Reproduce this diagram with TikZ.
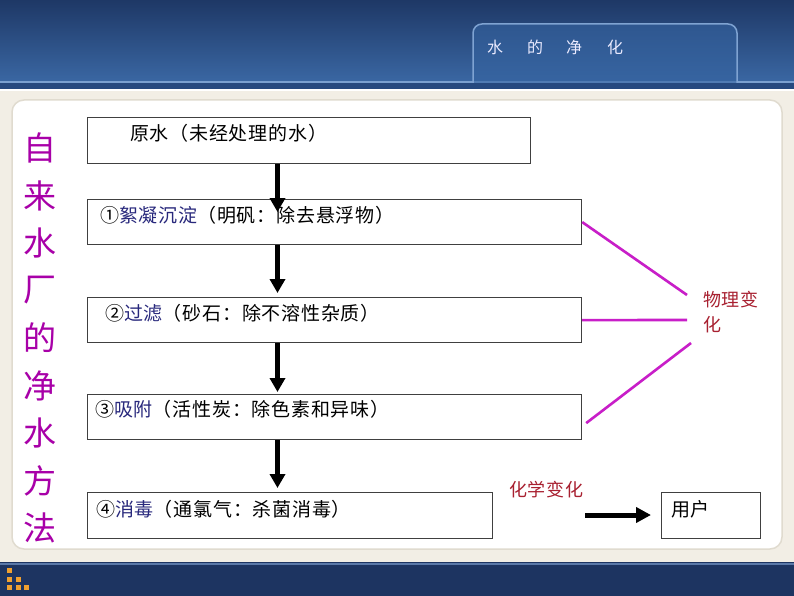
\documentclass[tikz,border=0pt]{standalone}
\usepackage{fontspec}
\setmainfont{Noto Sans CJK SC}
\newfontfamily\spacedcjk{Noto Sans CJK SC}[LetterSpace=4]
\usetikzlibrary{arrows.meta,calc}
\definecolor{bannertop}{HTML}{1E3866}
\definecolor{bannerbot}{HTML}{3A67A3}
\definecolor{tabfill}{HTML}{3563A0}
\definecolor{tabedge}{HTML}{7FA3D2}
\definecolor{bandline}{HTML}{7AA0D0}
\definecolor{banddark}{HTML}{26497F}
\definecolor{cream}{HTML}{F2EEE5}
\definecolor{paneledge}{HTML}{E0DBCF}
\definecolor{footbar}{HTML}{1D3461}
\definecolor{footline}{HTML}{5A78A8}
\definecolor{squares}{HTML}{F0A030}
\definecolor{boxedge}{HTML}{404040}
\definecolor{stepblue}{HTML}{28287C}
\definecolor{sidemag}{HTML}{A800A8}
\definecolor{linkmag}{HTML}{C81EC8}
\definecolor{labelred}{HTML}{A82030}
\begin{document}
\begin{tikzpicture}[x=1pt,y=-1pt,
  stepbox/.style={draw=boxedge,line width=1.2pt,fill=white,inner sep=0pt,anchor=north west},
  steptext/.style={anchor=west,inner sep=0pt,font=\spacedcjk\fontsize{19pt}{22pt}\selectfont},
  flowarrow/.style={line width=4.5pt,-{Triangle[width=15pt,length=14pt]}},
  linkline/.style={draw=linkmag,line width=2.6pt},
  redlabel/.style={text=labelred,inner sep=0pt,font=\spacedcjk\fontsize{18pt}{25pt}\selectfont},
  sidechar/.style={text=sidemag,inner sep=0pt,font=\fontsize{33pt}{36pt}\selectfont},
  headchar/.style={text=white!92!blue,inner sep=0pt,font=\fontsize{16pt}{18pt}\selectfont},
  sq/.style={fill=squares}]
\useasboundingbox (0,0) rectangle (794,596);
% banner
\fill[top color=bannertop,bottom color=bannerbot] (0,0) rectangle (794,82);
\fill[bandline] (0,81.5) rectangle (794,83);
\fill[banddark] (0,83) rectangle (794,89);
\fill[white] (0,89) rectangle (794,91);
% tab
\path[fill=tabfill,fill opacity=0.6,draw=tabedge,line width=1.5pt,rounded corners=9pt]
  (473,83) -- (473,24) -- (737,24) -- (737,83);
\node[headchar] (h1) at (495,47) {水};
\node[headchar] (h2) at (535,47) {的};
\node[headchar] (h3) at (574,47) {净};
\node[headchar] (h4) at (615,47) {化};
% cream area and panel
\fill[cream] (0,91) rectangle (794,562);
\filldraw[fill=white,draw=paneledge,line width=1.5pt,rounded corners=12pt] (12,100) rectangle (782,549);
% footer
\fill[footbar] (0,562) rectangle (794,596);
\fill[footline] (0,563) rectangle (794,565);
\fill[sq] (7,568) rectangle (12,573);
\fill[sq] (7,577) rectangle (12,582);
\fill[sq] (16,577) rectangle (21,582);
\fill[sq] (7,585) rectangle (12,590);
\fill[sq] (16,585) rectangle (21,590);
\fill[sq] (24,585) rectangle (29,590);
% side text
\foreach \c [count=\i from 0] in {自,来,水,厂,的,净,水,方,法}{
  \node[sidechar] (s\i) at (40,{148+47.5*\i}) {\c};
}
% boxes
\node[stepbox,minimum width=443pt,minimum height=46pt] (b0) at (87,117) {};
\node[stepbox,minimum width=494pt,minimum height=45pt] (b1) at (87,199) {};
\node[stepbox,minimum width=494pt,minimum height=45pt] (b2) at (87,297) {};
\node[stepbox,minimum width=494pt,minimum height=45pt] (b3) at (87,394) {};
\node[stepbox,minimum width=405pt,minimum height=46pt] (b4) at (87,492) {};
\node[stepbox,minimum width=99pt,minimum height=46pt] (user) at (661,492) {};
% box texts
\node[steptext] (t0) at (130,133) {原水（未经处理的水）};
\node[steptext] (t1) at (100,215) {①\textcolor{stepblue}{絮凝沉淀}（明矾：除去悬浮物）};
\node[steptext] (t2) at (105,313) {②\textcolor{stepblue}{过滤}（砂石：除不溶性杂质）};
\node[steptext] (t3) at (95,409) {③\textcolor{stepblue}{吸附}（活性炭：除色素和异味）};
\node[steptext] (t4) at (96,509) {④\textcolor{stepblue}{消毒}（通氯气：杀菌消毒）};
\node[steptext] (tu) at (671,509) {用户};
% flow arrows
\coordinate (ax) at (277.5,0);
\draw[flowarrow] (b0.south -| ax) -- ([yshift=-13pt]b1.north -| ax);
\draw[flowarrow] (b1.south -| ax) -- ([yshift=4pt]b2.north -| ax);
\draw[flowarrow] (b2.south -| ax) -- ([yshift=2pt]b3.north -| ax);
\draw[flowarrow] (b3.south -| ax) -- ([yshift=4pt]b4.north -| ax);
% physical change links
\node[redlabel,anchor=north west,align=left] (phys) at (703,291) {物理变\\化};
\coordinate (p1) at (687,295);
\coordinate (p2) at (687,320);
\coordinate (p3) at (691,343);
\draw[linkline] (b1.east) -- (p1);
\draw[linkline] (b2.east) -- (p2);
\draw[linkline] ([xshift=4pt,yshift=-6pt]b3.east) -- (p3);
% chemical change
\node[redlabel,anchor=west] (chem) at (509,490) {化学变化};
\coordinate (ua) at (585,515);
\draw[line width=5pt,-{Triangle[width=15pt,length=15pt]}] (ua) -- ([xshift=-10pt]user.west |- ua);
\end{tikzpicture}
\end{document}
